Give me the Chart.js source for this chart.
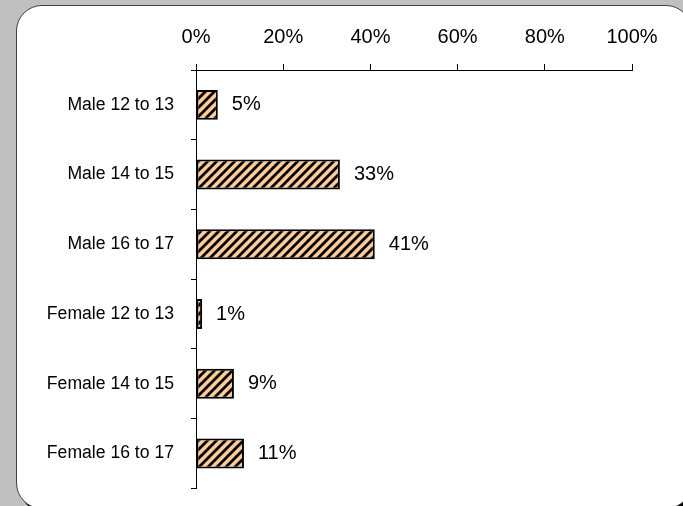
<!DOCTYPE html>
<html>
<head>
<meta charset="utf-8">
<script src="https://cdn.jsdelivr.net/npm/chart.js@4/dist/chart.umd.min.js"></script>
<style>
  html, body { margin: 0; padding: 0; }
  body { width: 683px; height: 506px; background: #c0c0c0; position: relative; overflow: hidden; }
  #frame {
    position: absolute; left: 16px; top: 5px; width: 676px; height: 504px;
    box-sizing: border-box; background: #fff; border: 1px solid #404040;
    border-radius: 26px; box-shadow: 3px 3px 0 #000;
  }
  #chart { position: absolute; left: 0; top: 0; }
</style>
</head>
<body>
<div id="frame"></div>
<canvas id="chart" width="683" height="516"></canvas>
<script>
// dados do grafico
var categories = ['Male 12 to 13', 'Male 14 to 15', 'Male 16 to 17',
                  'Female 12 to 13', 'Female 14 to 15', 'Female 16 to 17'];
var percentValues = [5, 33, 41, 1.4, 8.7, 11];
var xTicks = [0, 20, 40, 60, 80, 100];

// hachura diagonal laranja/preta
function hatch() {
    var c = document.createElement('canvas');
    c.width = 9; c.height = 9;
    var g = c.getContext('2d');
    g.fillStyle = '#ffcc99';
    g.fillRect(0, 0, 9, 9);
    g.strokeStyle = '#000';
    g.lineWidth = 2.8;
    g.beginPath();
    g.moveTo(-1, 10); g.lineTo(10, -1);
    g.moveTo(-5.5, 5.5); g.lineTo(5.5, -5.5);
    g.moveTo(3.5, 14.5); g.lineTo(14.5, 3.5);
    g.stroke();
    return g.createPattern(c, 'repeat');
}

// rotulos de valor ao lado das barras
var valueLabels = {
    id: 'valueLabels',
    afterDatasetsDraw: function(chart) {
        var ctx = chart.ctx;
        var meta = chart.getDatasetMeta(0);
        ctx.save();
        ctx.font = "20px 'Liberation Sans', Arial, sans-serif";
        ctx.fillStyle = '#000';
        ctx.textAlign = 'left';
        ctx.textBaseline = 'middle';
        meta.data.forEach(function(bar, i) {
            ctx.fillText(Math.round(percentValues[i]) + '%', bar.x + 14, bar.y);
        });
        ctx.restore();
    }
};

var ctx = document.getElementById('chart');
var chartGraph = new Chart(ctx, {
    type: 'bar',
    data: {
        labels: categories,
        datasets: [{
            data: percentValues,
            backgroundColor: hatch(),
            borderColor: '#000',
            borderWidth: 2,
            borderSkipped: false,
            categoryPercentage: 1,
            barPercentage: 0.43
        }]
    },
    options: {
        indexAxis: 'y',
        responsive: false,
        animation: false,
        layout: { padding: { top: 0, left: 0, right: 51, bottom: 0 } },
        plugins: {
            legend: { display: false },
            tooltip: { enabled: false },
            title: { display: false }
        },
        scales: {
            x: {
                position: 'top',
                min: 0,
                max: 100,
                afterBuildTicks: function(s) {
                    s.ticks = xTicks.map(function(v) { return { value: v }; });
                },
                afterFit: function(s) { s.height = 70; },
                grid: { drawOnChartArea: false, tickLength: 6, color: '#000' },
                border: { color: '#000', width: 1 },
                ticks: {
                    padding: 15,
                    color: '#000',
                    font: { family: "'Liberation Sans', Arial, sans-serif", size: 20 },
                    callback: function(v) { return v + '%'; }
                }
            },
            y: {
                afterFit: function(s) { s.width = 196; },
                grid: { offset: true, drawOnChartArea: false, tickLength: 5, color: '#000' },
                border: { color: '#000', width: 1 },
                ticks: {
                    padding: 17,
                    color: '#000',
                    font: { family: "'Liberation Sans', Arial, sans-serif", size: 17.6 }
                }
            }
        }
    },
    plugins: [valueLabels]
});
</script>
</body>
</html>
